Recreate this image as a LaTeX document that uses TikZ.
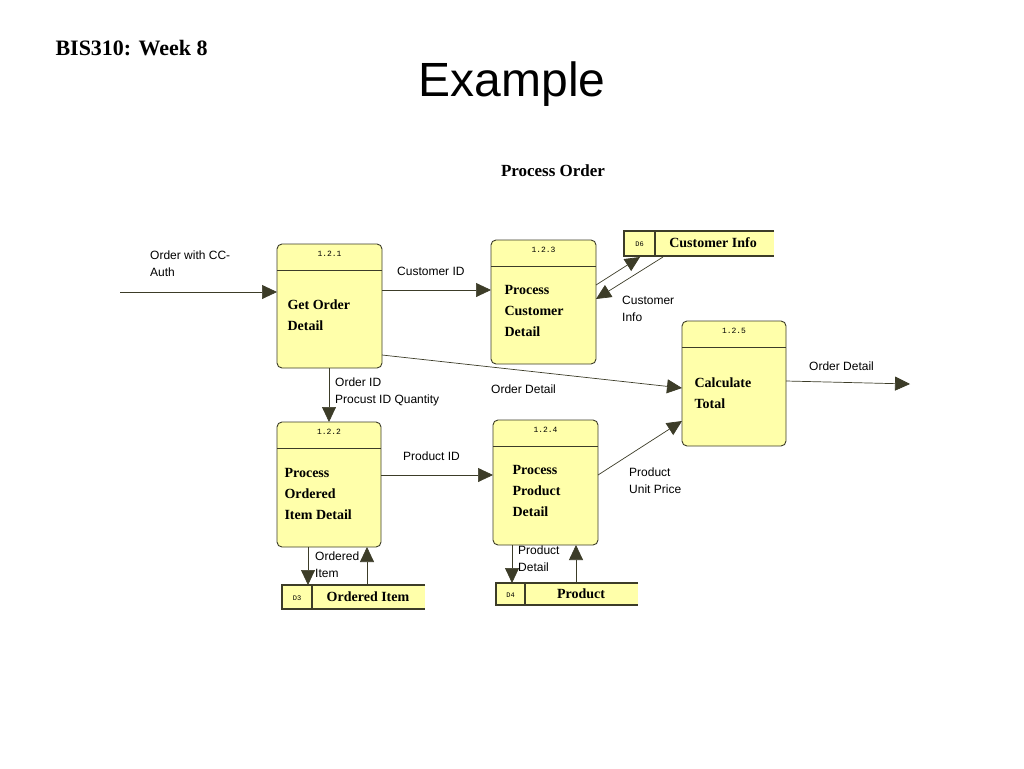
\documentclass[tikz,border=0pt]{standalone}
\usepackage{fontspec}
\setmainfont{Liberation Serif}
\newfontfamily\lsans{Liberation Sans}
\newfontfamily\lmono{Liberation Mono}
\usetikzlibrary{arrows.meta}
\definecolor{boxfill}{RGB}{255,255,170}
\definecolor{edgec}{RGB}{60,60,40}
\begin{document}
\begin{tikzpicture}[x=1pt,y=-1pt,
  proc/.style={draw=edgec,fill=boxfill,rounded corners=5pt,line width=0.9pt},
  hdr/.style={font=\lmono\fontsize{8}{8}\selectfont,anchor=center},
  ptext/.style={font=\bfseries\fontsize{14}{21}\selectfont,align=left,anchor=north west},
  lbl/.style={font=\lsans\fontsize{12}{17}\selectfont,align=left,anchor=north west,inner sep=0pt},
  flow/.style={draw=edgec,line width=0.7pt,-{Triangle[length=15pt,width=14pt]}},
  store/.style={fill=boxfill},
  sline/.style={draw=edgec,line width=1.2pt}]
\useasboundingbox (0,0) rectangle (1024,768);
\fill[white] (0,0) rectangle (1024,768);
\node[font=\bfseries\fontsize{22}{22}\selectfont,anchor=west] (bis) at (52,48) {BIS310: Week 8};
\node[font=\lsans\fontsize{48}{48}\selectfont] (title) at (512,84) {Example};
\node[font=\bfseries\fontsize{17}{17}\selectfont] (po) at (553,171) {Process Order};
% processes
\newcommand{\proc}[6]{%
 \path[proc] (#1,#2) rectangle (#3,#4);
 \draw[edgec,line width=0.9pt] (#1,#2+26) -- (#3,#2+26);
 \node[hdr] at ({(#1+#3)/2},#2+10) {#5};
 \coordinate (#6) at ({(#1+#3)/2},{(#2+#4)/2});
 \coordinate (#6nw) at (#1,#2); \coordinate (#6se) at (#3,#4);}
\proc{277}{244}{382}{368}{1.2.1}{p1}
\proc{491}{240}{596}{364}{1.2.3}{p3}
\proc{682}{321}{786}{446}{1.2.5}{p5}
\proc{277}{422}{381}{547}{1.2.2}{p2}
\proc{493}{420}{598}{545}{1.2.4}{p4}
\node[ptext] (t1) at (284,296) {Get Order\\Detail};
\node[ptext] (t3) at (501,282) {Process\\Customer\\Detail};
\node[ptext] (t5) at (691,374) {Calculate\\Total};
\node[ptext] (t2) at (281,465) {Process\\Ordered\\Item Detail};
\node[ptext] (t4) at (509,462) {Process\\Product\\Detail};
% stores
\newcommand{\store}[7]{%
 \fill[boxfill] (#1,#2) rectangle (#3,#4);
 \draw[sline] (#3,#2) -- (#1,#2) -- (#1,#4) -- (#3,#4);
 \draw[sline] (#5,#2) -- (#5,#4);
 \node[font=\lmono\fontsize{7}{7}\selectfont] at ({(#1+#5)/2},{(#2+#4)/2+1}) {#6};
 \node[font=\bfseries\fontsize{14}{14}\selectfont] (#7) at ({(#5+#3)/2},{(#2+#4)/2}) {\phantom{x}};}
\store{624}{231}{774}{256}{655}{D6}{s6}
\node[font=\bfseries\fontsize{14}{14}\selectfont] at (713,243) {Customer Info};
\store{282}{585}{425}{609}{312}{D3}{s3}
\node[font=\bfseries\fontsize{14}{14}\selectfont] at (368,597) {Ordered Item};
\store{496}{583}{638}{605}{525}{D4}{s4}
\node[font=\bfseries\fontsize{14}{14}\selectfont] at (581,594) {Product};
% coordinates
\coordinate (in) at (120,292);
\coordinate (out) at (910,384);
% flows
\draw[flow] (in) -- (277,292);
\node[lbl] (l1) at (150,251) {Order with CC-\\Auth};
\draw[flow] (382,290) -- (491,290);
\node[lbl] (l2) at (397,267) {Customer ID};
\draw[flow] (596,285) -- (640,257);
\draw[flow] (663,257) -- (596,299);
\node[lbl] (l3) at (622,296) {Customer\\Info};
\draw[flow] (382,355) -- (682,388);
\node[lbl] (l4) at (491,385) {Order Detail};
\draw[flow] (329,368) -- (329,422);
\node[lbl] (l5) at (335,378) {Order ID\\Procust ID Quantity};
\draw[flow] (381,475) -- (493,475);
\node[lbl] (l6) at (403,452) {Product ID};
\draw[flow] (598,475) -- (682,421);
\node[lbl] (l7) at (629,468) {Product\\Unit Price};
\draw[flow] (786,381) -- (out);
\node[lbl] (l8) at (809,362) {Order Detail};
\draw[flow] (308,547) -- (308,585);
\draw[flow] (367,585) -- (367,547);
\node[lbl] (l9) at (315,552) {Ordered\\Item};
\draw[flow] (512,545) -- (512,583);
\draw[flow] (576,583) -- (576,545);
\node[lbl] (l10) at (518,546) {Product\\Detail};
\end{tikzpicture}
\end{document}
